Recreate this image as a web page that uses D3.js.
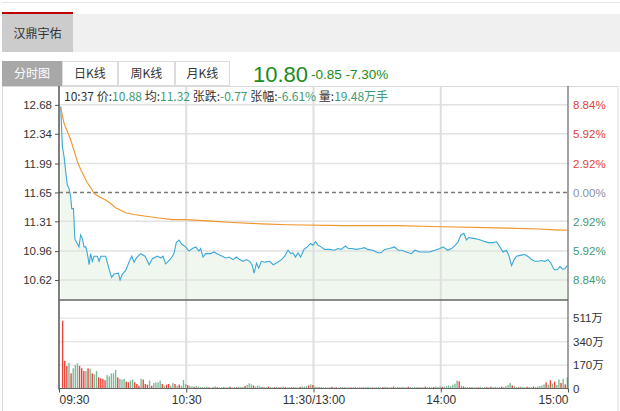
<!DOCTYPE html>
<html><head><meta charset="utf-8">
<script src="https://cdn.jsdelivr.net/npm/d3@7/dist/d3.min.js"></script>
<style>
body{margin:0;background:#fff;}
svg{display:block;font-family:"Liberation Sans",Arial,sans-serif;}
.cjk{font-family:"Noto Sans CJK SC","Liberation Sans",sans-serif;}
</style></head><body>
<svg id="c" width="620" height="411"></svg>
<script>
// ---------- data ----------
const stockName = "汉鼎宇佑";
const tabs = ["分时图","日K线","周K线","月K线"];
const lastPrice = "10.80", change = "-0.85", changePct = "-7.30%";
const infoTime = "10:37", infoPrice = "10.88", infoAvg = "11.32", infoChg = "-0.77", infoPct = "-6.61%", infoVol = "19.48万手";
const prevClose = 11.65;
const priceTicks = [12.68, 12.34, 11.99, 11.65, 11.31, 10.96, 10.62];
const pctLabels = ["8.84%","5.92%","2.92%","0.00%","2.92%","5.92%","8.84%"];
const timeTicks = [0, 60, 120, 180, 240];
const timeLabels = ["09:30","10:30","11:30/13:00","14:00","15:00"];
const volTicks = [0, 170, 340, 511];
const volLabels = ["0","170万","340万","511万"];

const priceMinutes = [0.8,1.6,2.4,3.1,3.9,4.7,5.5,6.0,6.8,7.5,8.6,9.4,10.2,11,11.8,12.6,13.4,14.2,14.9,15.7,16.5,18.1,18.9,19.7,22,23.6,24.8,25.9,28,28.8,29.9,31.4,33,34.3,35.4,36.5,38.5,40.6,42.5,44,46.4,48,49,50.3,52.7,54.2,55.3,56.6,57.9,59.7,61.3,62.9,64.5,66,66.8,67.9,69.2,71.5,73.1,75.2,77,78.6,80.2,
82.1,83.6,85.2,86.8,88.3,89.9,91,92,93.1,94.2,95.4,97,99.4,101,102.5,104.9,106.4,108,109.3,110.3,111.5,112.7,113.9,115.5,117.1,118.6,119.7,121,122,123.6,125.2,127.5,129.9,131.5,133.1,135,136.5,138.1,140.1,142.5,144,145.6,148,150.3,151.9,153.5,155.8,158.2,
159.9,161.5,163.8,166.2,167.8,170.1,172.5,174.8,177.2,179.6,181.1,183.2,185.1,186.9,188.2,189.5,190.9,192.1,193.2,195.3,197.6,200,202.4,204.7,206.3,207.9,209.4,211,212.1,213.4,214.6,215.7,217.3,219.6,221.5,222.8,224.4,225.9,227.5,229.1,230.6,231.9,233.5,235,236.2,237.3,238.5,239.6];
const prices = [12.66,12.19,12.07,11.91,11.74,11.70,11.60,11.46,11.46,11.10,11.05,11.01,11.15,11.11,11.01,11.01,10.93,10.80,10.93,10.84,10.90,10.90,10.84,10.90,10.90,10.75,10.65,10.69,10.70,10.62,10.69,10.73,10.83,10.90,10.83,10.88,10.93,10.90,10.80,10.87,10.90,10.88,10.90,10.81,10.87,10.93,11.06,11.09,11.04,11.01,10.96,10.99,11.01,10.96,10.99,10.89,10.93,10.93,10.95,10.92,10.90,10.88,10.89,
10.86,10.89,10.86,10.84,10.86,10.84,10.80,10.70,10.82,10.76,10.84,10.83,10.84,10.80,10.82,10.86,10.90,10.97,10.93,10.94,10.89,10.94,10.89,10.98,11.01,11.05,11.03,11.07,11.03,11.01,10.98,10.98,10.97,10.99,10.98,11.02,10.99,10.99,10.98,10.99,11.00,10.98,10.97,10.94,10.94,10.98,10.99,11.01,
10.97,10.97,10.95,10.93,10.97,10.95,10.95,10.95,10.97,10.99,11.01,10.97,10.99,11.03,11.07,11.15,11.17,11.09,11.12,11.11,11.10,11.08,11.06,11.06,11.07,11.01,10.95,10.97,10.91,10.79,10.86,10.90,10.91,10.92,10.89,10.86,10.84,10.84,10.85,10.84,10.86,10.82,10.74,10.74,10.78,10.75,10.75,10.79];

const avgMinutes = [0.8,2.4,3.9,5.5,7.1,8.6,10.2,11.8,13.4,14.9,16.5,18.9,22,24.4,26.7,29.1,31.4,35.4,40.9,47.2,53.5,59.7,73.9,79.7,95.4,108,134.7,159.7,175.6,211.8,226,233.8,239.6];
const avgPrices = [12.65,12.46,12.37,12.27,12.14,12.02,11.92,11.84,11.76,11.71,11.64,11.60,11.56,11.52,11.47,11.44,11.41,11.39,11.37,11.35,11.33,11.33,11.31,11.30,11.28,11.27,11.26,11.26,11.25,11.23,11.22,11.21,11.205];

// volume per minute bar, in 万
const volumes = [493,202,164,188,110,147,171,183,164,147,127,127,147,142,110,103,127,81,74,70,60,98,88,110,110,135,81,70,65,70,50,45,58,65,45,33,20,70,65,33,28,58,20,40,45,45,58,33,20,28,33,20,40,33,20,28,20,62,33,25,20,15,12,18,15,
12,8,10,14,9,6,11,15,10,8, 9,12,7,10,13,8,11,9,14,10, 12,18,25,38,30,22,14,20,16,10, 12,9,14,11,8,10,13,9,12,15,
10,8,11,9,13,10,7,12,16,14, 18,22,30,26,15,12,9,11,8,10, 7,9,12,8,10,6,9,11,8,7, 10,8,9,12,7,10,8,11,9,13,
8,10,7,9,11,8,10,12,9,8, 10,14,9,11,8,12,10,9,13,11, 9,12,10,8,11,9,14,10,12,9, 11,13,10,15,12,14,18,22,16,28,
35,58,52,20,15,12,10,9,11,8, 10,9,12,8,11,10,9,13,10,12, 9,11,14,10,18,25,40,22,16,12, 10,14,11,9,13,12,10,15,11,14,
18,22,30,45,28,60,35,50,25,66, 40,70,30,81];
const volDirs = ("rrrgrgggrr"+"rgrgrggrrr"+"rgggggrggg"+"rrggrrrgrr"+"rgrggggrgr"+"rggrgrgggr"+"ggrgg"+
"grggrgggrg"+"ggrgrggrgg"+"grgggrgggr"+"ggrggrgrgg"+"rggrgggrgg"+"grgrggrggg"+"ggrgrgggrg"+"grggrgrggg"+
"ggrgggrgrg"+"grggrgggrg"+"gggrggrggg"+"rgggrggggg"+"ggrgrggrgg"+"grgggrgrgg"+"ggrggggrgg"+"rgggrggrgg"+"gggrgrgrgg"+"rgrg").split("");

// ---------- drawing ----------
const svg = d3.select("#c");
const L = 59, R = 568, T = 86, PB = 300, VB = 388.5;

// page header
svg.append("line").attr("x1",2).attr("x2",620).attr("y1",2.5).attr("y2",2.5).attr("stroke","#e4e4e4");
svg.append("rect").attr("x",2).attr("y",14).attr("width",618).attr("height",38).attr("fill","#f0f0f0");
svg.append("rect").attr("x",2).attr("y",14).attr("width",71).attr("height",38).attr("fill","#cccccc");
svg.append("rect").attr("x",2).attr("y",12).attr("width",71).attr("height",2).attr("fill","#c00000");
svg.append("text").attr("class","cjk").attr("x",37.5).attr("y",37.5).attr("text-anchor","middle")
  .attr("font-size",12).attr("fill","#333").text(stockName);

// tabs
const tabX = [2,62,118,175,230];
tabs.forEach((t,i)=>{
  svg.append("rect").attr("x",tabX[i]+0.5).attr("y",61.5).attr("width",tabX[i+1]-tabX[i]-1).attr("height",24)
    .attr("fill", i===0 ? "#a8a8a8" : "#fff").attr("stroke", i===0 ? "#a8a8a8" : "#dcdcdc");
  svg.append("text").attr("class","cjk").attr("x",(tabX[i]+tabX[i+1])/2).attr("y",78)
    .attr("text-anchor","middle").attr("font-size",12).attr("fill", i===0 ? "#fff" : "#333").text(t);
});
svg.append("text").attr("x",253).attr("y",82).attr("font-size",22).attr("fill","#1a8c1a").text(lastPrice);
svg.append("text").attr("x",311).attr("y",79).attr("font-size",13.5).attr("fill","#1a8c1a").text(change + " " + changePct);

// scales
const x = d3.scaleLinear().domain([0,240]).range([L,R]);
const y = d3.scaleLinear().domain([10.385,12.89]).range([PB,87]);
const yv = d3.scaleLinear().domain([0,644]).range([VB,PB]);

// frame
svg.append("rect").attr("x",2.5).attr("y",T+0.5).attr("width",615.5).attr("height",330).attr("fill","none").attr("stroke","#dadada");

// price area fill
const pts = priceMinutes.map((m,i)=>[m,prices[i]]);
svg.append("path").datum(pts)
  .attr("d", d3.area().x(d=>x(d[0])).y0(PB).y1(d=>y(d[1])))
  .attr("fill","#eff7ef");

// horizontal grid (price)
priceTicks.forEach((p,i)=>{
  if (p === prevClose) return;
  svg.append("line").attr("x1",L).attr("x2",R).attr("y1",y(p)).attr("y2",y(p)).attr("stroke","#e2e2e2").attr("stroke-width",1.5);
});
// volume grid
volTicks.slice(1).forEach(v=>{
  svg.append("line").attr("x1",L).attr("x2",R).attr("y1",yv(v)).attr("y2",yv(v)).attr("stroke","#e8e8e8").attr("stroke-width",1.5);
});
// vertical grid
timeTicks.slice(1,4).forEach(t=>{
  svg.append("line").attr("x1",x(t)).attr("x2",x(t)).attr("y1",T).attr("y2",VB).attr("stroke","#dedede").attr("stroke-width",2);
});
// prev close dashed
svg.append("line").attr("x1",L).attr("x2",R).attr("y1",y(prevClose)).attr("y2",y(prevClose))
  .attr("stroke","#7a7a7a").attr("stroke-width",1.5).attr("stroke-dasharray","4,3");

// lines
svg.append("path").datum(pts).attr("d", d3.line().x(d=>x(d[0])).y(d=>y(d[1])))
  .attr("fill","none").attr("stroke","#3aa8d8").attr("stroke-width",1.1);
svg.append("path").datum(avgMinutes.map((m,i)=>[m,avgPrices[i]]))
  .attr("d", d3.line().x(d=>x(d[0])).y(d=>y(d[1])))
  .attr("fill","none").attr("stroke","#f0952c").attr("stroke-width",1.1);

// volume bars
svg.append("g").selectAll("rect").data(volumes).join("rect")
  .attr("x",(d,i)=>x(i+1.7)-0.7).attr("width",1.4)
  .attr("y",d=>yv(d)).attr("height",d=>VB-yv(d))
  .attr("fill",(d,i)=>volDirs[i]==="r" ? "#e8463c" : "#7dbb98");

// axes lines
svg.append("line").attr("x1",L).attr("x2",L).attr("y1",T).attr("y2",VB+1).attr("stroke","#555").attr("stroke-width",1.5);
svg.append("line").attr("x1",R).attr("x2",R).attr("y1",T).attr("y2",VB+1).attr("stroke","#666").attr("stroke-width",1.2);
svg.append("line").attr("x1",L).attr("x2",R).attr("y1",PB).attr("y2",PB).attr("stroke","#666").attr("stroke-width",1.5);
svg.append("line").attr("x1",L).attr("x2",R).attr("y1",VB).attr("y2",VB).attr("stroke","#666").attr("stroke-width",1.2);

// left price axis
const ga = svg.append("g").attr("transform",`translate(${L},0)`)
  .call(d3.axisLeft(y).tickValues(priceTicks).tickSize(4).tickPadding(3).tickFormat(d3.format(".2f")));
ga.select(".domain").remove();
ga.selectAll("line").attr("stroke","#555");
ga.selectAll("text").attr("font-size",11.5).attr("fill","#333").attr("font-family","Liberation Sans, Arial, sans-serif");

// right pct axis
const gr = svg.append("g").attr("transform",`translate(${R},0)`)
  .call(d3.axisRight(y).tickValues(priceTicks).tickSize(0).tickPadding(5).tickFormat((d,i)=>pctLabels[i]));
gr.select(".domain").remove();
gr.selectAll("text").attr("font-size",11.5).attr("font-family","Liberation Sans, Arial, sans-serif")
  .attr("fill",d=> d>prevClose ? "#e0423a" : (d<prevClose ? "#3f9a76" : "#8a90a8"));

// right volume axis
const gv = svg.append("g").attr("transform",`translate(${R},0)`)
  .call(d3.axisRight(yv).tickValues(volTicks).tickSize(0).tickPadding(5).tickFormat((d,i)=>volLabels[i]));
gv.select(".domain").remove();
gv.selectAll("text").attr("font-size",11.5).attr("fill","#333").attr("font-family","Liberation Sans, Noto Sans CJK SC, sans-serif");

// time axis
const gx = svg.append("g").attr("transform",`translate(0,${VB})`)
  .call(d3.axisBottom(x).tickValues(timeTicks).tickSize(4).tickPadding(3).tickFormat((d,i)=>timeLabels[i]));
gx.select(".domain").remove();
gx.selectAll("line").attr("stroke","#555");
gx.selectAll("text").attr("font-size",12).attr("fill","#333").attr("font-family","Liberation Sans, Arial, sans-serif")
  .attr("text-anchor",(d,i)=> i===0 ? "start" : (i===timeTicks.length-1 ? "end" : "middle"));

// info header
const info = svg.append("text").attr("class","cjk").attr("x",64).attr("y",101).attr("font-size",12).attr("fill","#333");
const parts = [[infoTime+" 价:","#333"],[infoPrice,"#3f9a76"],[" 均:","#333"],[infoAvg,"#3f9a76"],[" 张跌:","#333"],[infoChg,"#3f9a76"],[" 张幅:","#333"],[infoPct,"#3f9a76"],[" 量:","#333"],[infoVol,"#3f9a76"]];
parts.forEach(p=> info.append("tspan").attr("fill",p[1]).text(p[0]));
</script></body></html>
